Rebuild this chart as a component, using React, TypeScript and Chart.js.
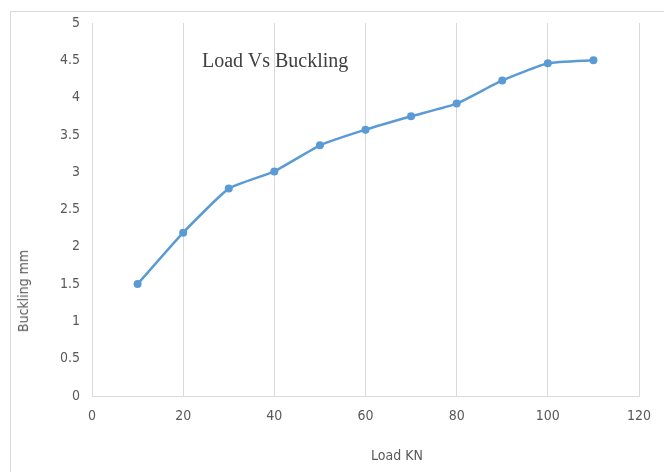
import React, { useEffect, useRef } from "react";
import { Chart, registerables } from "chart.js";

Chart.register(...registerables);

const loadKN = [10, 20, 30, 40, 50, 60, 70, 80, 90, 100, 110];
const bucklingMm = [1.5, 2.19, 2.78, 3.01, 3.36, 3.57, 3.75, 3.92, 4.23, 4.46, 4.5];
const xTicks = [0, 20, 40, 60, 80, 100, 120];
const yTicks = [0, 0.5, 1, 1.5, 2, 2.5, 3, 3.5, 4, 4.5, 5];

const chartTitle = "Load Vs Buckling";
const xTitle = "Load KN";
const yTitle = "Buckling mm";

const FONT = "'Liberation Sans Narrow', 'DejaVu Sans Condensed', 'Liberation Sans', sans-serif";

export default function App() {
  const canvasRef = useRef<HTMLCanvasElement | null>(null);

  useEffect(() => {
    if (!canvasRef.current) return;
    const chart = new Chart(canvasRef.current, {
      type: "line",
      data: {
        datasets: [
          {
            data: loadKN.map((x, i) => ({ x, y: bucklingMm[i] })),
            borderColor: "#5b9bd5",
            backgroundColor: "#5b9bd5",
            borderWidth: 2.5,
            pointRadius: 4,
            pointBorderWidth: 0,
            pointBackgroundColor: "#5b9bd5",
            tension: 0.15,
          },
        ],
      },
      options: {
        animation: false,
        responsive: false,
        maintainAspectRatio: false,
        layout: { padding: { left: 0, right: 25, top: 23, bottom: 0 } },
        plugins: { legend: { display: false }, title: { display: false }, tooltip: { enabled: false } },
        scales: {
          x: {
            type: "linear",
            min: 0,
            max: 120,
            afterBuildTicks: (s: any) => {
              s.ticks = xTicks.map((v) => ({ value: v }));
            },
            afterFit: (s: any) => {
              s.height = 76;
            },
            grid: { display: true, color: "#d9d9d9", lineWidth: 1, drawTicks: false },
            border: { display: true, color: "#d9d9d9", width: 1 },
            ticks: {
              padding: 12,
              color: "#595959",
              font: { family: FONT, size: 14 },
              callback: (v: any) => String(v),
            },
          },
          y: {
            type: "linear",
            min: 0,
            max: 5,
            afterBuildTicks: (s: any) => {
              s.ticks = yTicks.map((v) => ({ value: v }));
            },
            afterFit: (s: any) => {
              s.width = 92;
            },
            grid: { display: false, drawTicks: false },
            border: { display: false },
            ticks: {
              padding: 12,
              color: "#595959",
              font: { family: FONT, size: 14 },
              callback: (v: any) => String(v),
            },
          },
        },
      },
    });
    return () => chart.destroy();
  }, []);

  return (
    <div style={{ position: "fixed", left: 0, top: 0, width: 664, height: 472, background: "#fff", overflow: "hidden" }}>
      <div
        style={{
          position: "absolute",
          left: 10,
          top: 11,
          width: 700,
          height: 500,
          borderLeft: "1px solid #d9d9d9",
          borderTop: "1px solid #d9d9d9",
        }}
      />
      <canvas ref={canvasRef} width={664} height={472} style={{ position: "absolute", left: 0, top: 0, width: 664, height: 472 }} />
      <div
        style={{
          position: "absolute",
          left: 202,
          top: 47,
          fontFamily: "'Liberation Serif', 'DejaVu Serif', serif",
          fontSize: 20,
          color: "#404040",
          whiteSpace: "nowrap",
          lineHeight: "26px",
        }}
      >
        {chartTitle}
      </div>
      <div
        style={{
          position: "absolute",
          left: 397,
          top: 455,
          transform: "translate(-50%, -50%)",
          fontFamily: FONT,
          fontSize: 14,
          color: "#595959",
          whiteSpace: "nowrap",
        }}
      >
        {xTitle}
      </div>
      <div
        style={{
          position: "absolute",
          left: 23,
          top: 291,
          transform: "translate(-50%, -50%) rotate(-90deg)",
          fontFamily: FONT,
          fontSize: 14,
          color: "#595959",
          whiteSpace: "nowrap",
        }}
      >
        {yTitle}
      </div>
    </div>
  );
}
